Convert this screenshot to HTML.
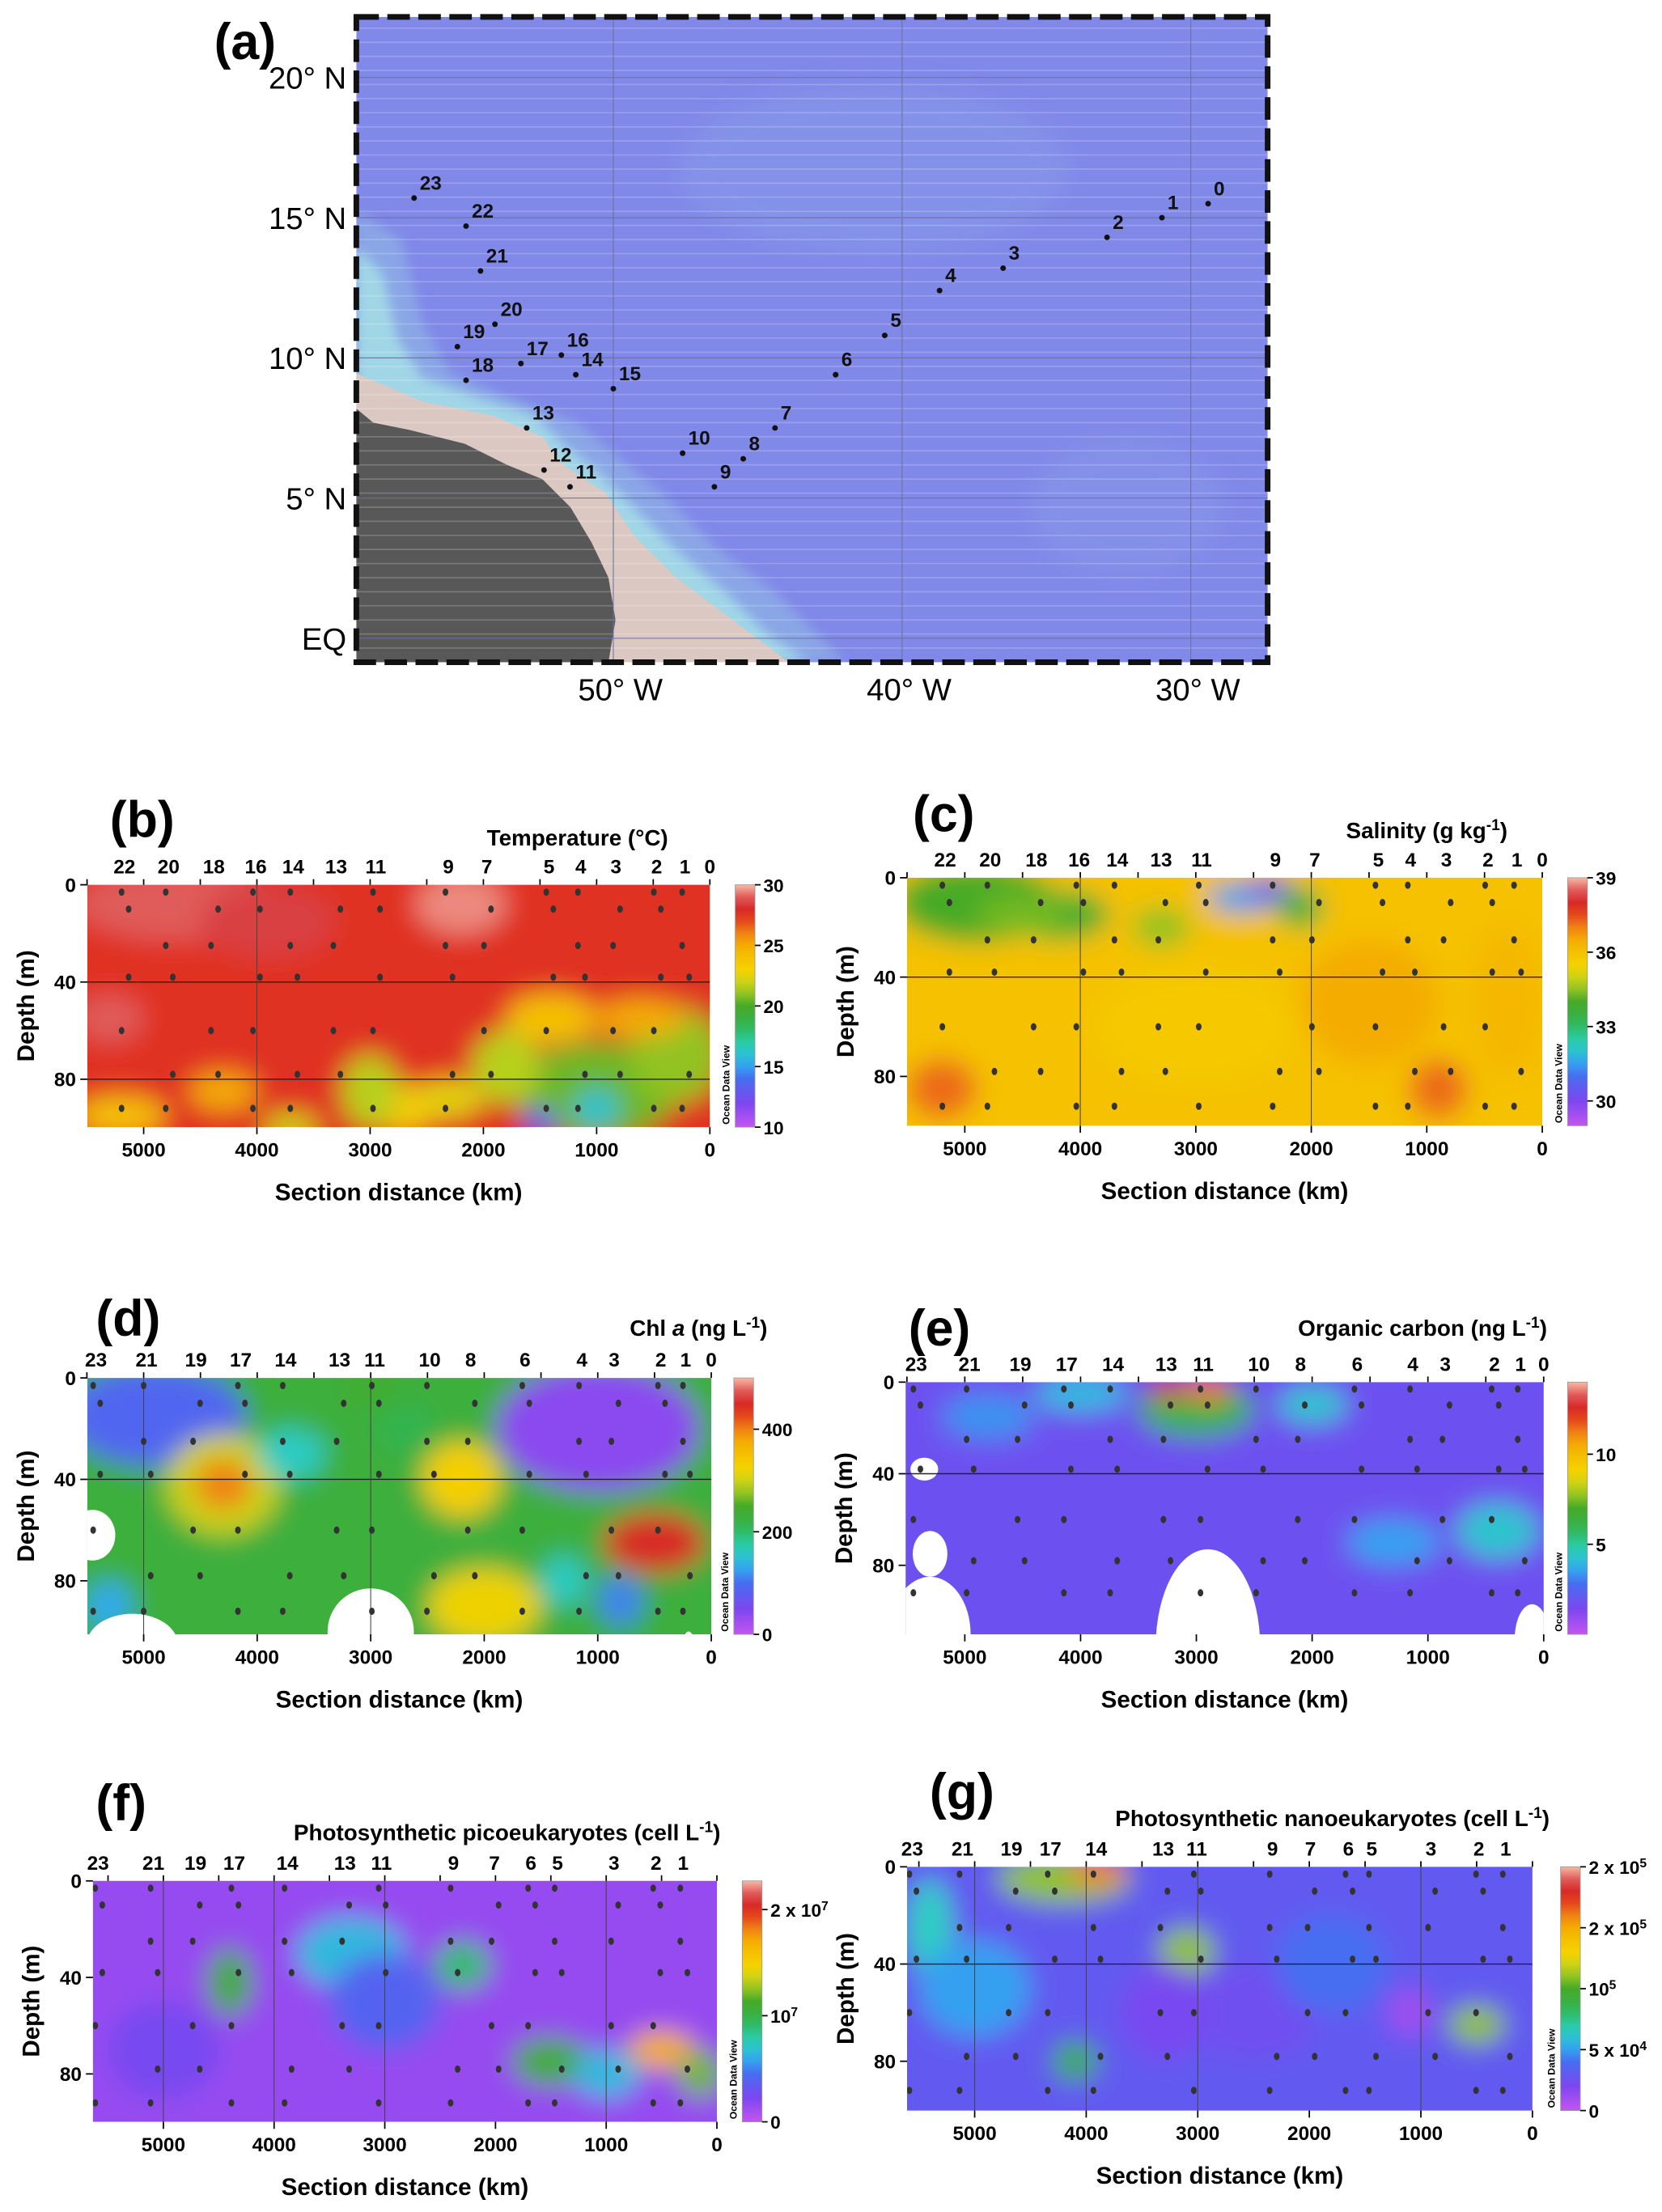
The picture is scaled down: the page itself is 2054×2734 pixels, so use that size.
<!DOCTYPE html>
<html><head><meta charset="utf-8"><title>Section plots</title>
<style>html,body{margin:0;padding:0;background:#fff}svg{display:block}text{font-family:"Liberation Sans",sans-serif}</style>
</head><body>
<svg id="fig" xmlns="http://www.w3.org/2000/svg" width="2054" height="2734" viewBox="0 0 1180 1570" preserveAspectRatio="none">
<defs>
<filter id="blur" x="-20%" y="-20%" width="140%" height="140%"><feGaussianBlur stdDeviation="9"/></filter>
<filter id="blurS" x="-20%" y="-20%" width="140%" height="140%"><feGaussianBlur stdDeviation="4"/></filter>
<clipPath id="mapclip"><rect x="253" y="12" width="647" height="458"/></clipPath>
</defs>
<g id="map"></g>
<g id="panels"></g>
</svg>
<script>
// ---------- Map data ----------
const mapStationIds=["0","1","2","3","4","5","6","7","8","9","10","11","12","13","14","15","16","17","18","19","20","21","22","23"];
const mapStationLon=[-29.4,-31.0,-32.9,-36.5,-38.7,-40.6,-42.3,-44.4,-45.5,-46.5,-47.6,-51.5,-52.4,-53.0,-51.3,-50.0,-51.8,-53.2,-55.1,-55.4,-54.1,-54.6,-55.1,-56.9];
const mapStationLat=[15.5,15.0,14.3,13.2,12.4,10.8,9.4,7.5,6.4,5.4,6.6,5.4,6.0,7.5,9.4,8.9,10.1,9.8,9.2,10.4,11.2,13.1,14.7,15.7];
const mapLonTicks=[-50,-40,-30];
const mapLatTicks=[20,15,10,5,0];

// ---------- Section data ----------
const bLabels=["22","20","18","16","14","13","11","9","7","5","4","3","2","1","0"];
const bLabelDist=[5170,4780,4380,4010,3680,3300,2950,2310,1970,1420,1140,830,470,220,0];
const bBlobDist=[4700,3900,2200,1000,300,1400,1800,2700,3000,5200,4300,1000,1500,600,3700,5300,2300];
const bBlobDepth=[8,15,8,85,70,55,75,92,85,95,85,92,98,55,100,55,88];
const bBlobRx=[900,600,400,700,400,400,300,300,250,400,300,200,150,400,250,300,300];
const bBlobRy=[15,15,12,20,20,10,15,10,15,8,8,8,6,8,6,10,8];
const bBlobVal=[29,28.7,29.5,20.5,21,24,21.5,23.5,21.5,24,25,16,13,25,22,29,22.5];
const bBase=27.5;
const cBlobDist=[4900,4200,2600,2350,2100,5200,900,3000,1500,4500,3300,300];
const cBlobDepth=[10,15,8,5,12,85,85,60,50,15,20,50];
const cBlobRx=[700,450,300,200,200,300,250,900,600,400,250,300];
const cBlobRy=[16,10,6,5,8,12,12,25,25,8,8,30];
const cBlobVal=[34,33.8,31.5,30.5,33.5,37.2,37.2,35.8,36.5,34.3,34.5,36.3];
const cBase=36;
const dBlobDist=[4900,4300,1000,4300,2200,500,2000,1300,800,3000,5300,3700,2700,3100];
const dBlobDepth=[15,42,20,42,40,65,90,80,88,5,90,30,20,70];
const dBlobRx=[800,500,900,250,350,450,500,200,200,300,200,300,250,300];
const dBlobRy=[20,20,25,10,15,12,15,10,10,8,10,10,10,20];
const dBlobVal=[90,300,40,400,330,450,320,160,110,240,130,160,210,230];
const dBase=230;
const dWhiteDist=[5450,5100,3000,200];
const dWhiteDepth=[62,105,100,105];
const dWhiteRx=[200,400,380,50];
const dWhiteRy=[10,12,17,5];
const eBlobDist=[3000,2900,3250,4000,400,1300,4800,2000];
const eBlobDepth=[12,3,3,5,65,70,15,10];
const eBlobRx=[500,200,150,400,350,400,400,300];
const eBlobRy=[12,6,5,8,12,10,10,8];
const eBlobVal=[6,11.5,12.5,4,4.3,3.5,3.3,4.3];
const eBase=1.8;
const eWhiteDist=[5350,5300,2900,5300,100];
const eWhiteDepth=[38,110,115,75,112];
const eWhiteRx=[120,350,450,150,150];
const eWhiteRy=[5,25,42,10,15];
const fBlobDist=[3300,4400,2300,1500,500,150,3000,5000,1000];
const fBlobDepth=[30,42,35,75,70,80,50,70,80];
const fBlobRx=[500,200,250,350,300,200,500,500,300];
const fBlobRy=[15,14,10,10,8,10,20,20,10];
const fBlobVal=[6.5,11,9,11,17,12,4,2.5,6.5];
const fBase=1.5;
const gBlobDist=[4200,3900,5400,3100,1100,500,4100,2500,3300,5000,1800];
const gBlobDepth=[5,2,25,35,60,65,80,60,60,50,40];
const gBlobRx=[600,250,200,250,200,250,200,600,400,500,500];
const gBlobRy=[10,6,20,10,10,8,8,20,20,20,20];
const gBlobVal=[11,16,6.5,11,1,11,9,2.5,2.2,5,4];
const gBase=3;
const dLabels=["23","21","19","17","14","13","11","10","8","6","4","3","2","1","0"];
const dLabelDist=[5420,4975,4540,4145,3750,3275,2965,2480,2120,1640,1140,855,445,225,0];
const eLabels=["23","21","19","17","14","13","11","10","8","6","4","3","2","1","0"];
const eLabelDist=[5420,4960,4520,4120,3720,3260,2940,2460,2100,1610,1130,850,425,200,0];
const fLabels=["23","21","19","17","14","13","11","9","7","6","5","3","2","1"];
const fLabelDist=[5590,5090,4710,4360,3880,3360,3030,2380,2010,1680,1440,930,550,305];
const gLabels=["23","21","19","17","14","13","11","9","7","6","5","3","2","1"];
const gLabelDist=[5560,5110,4670,4320,3910,3310,3010,2330,1990,1650,1440,910,480,240];
const sampleDepths=[3,10,25,38,60,78,92];

const NS="http://www.w3.org/2000/svg";
function mk(tag,attrs,parent){const e=document.createElementNS(NS,tag);for(const k in attrs)e.setAttribute(k,attrs[k]);if(parent)parent.appendChild(e);return e;}
const stops=[[0,[195,85,240]],[0.1,[125,70,240]],[0.2,[70,110,240]],[0.26,[50,170,240]],[0.33,[40,210,190]],[0.42,[50,180,80]],[0.5,[70,170,40]],[0.58,[190,210,30]],[0.65,[245,210,0]],[0.74,[245,180,0]],[0.8,[240,130,20]],[0.87,[225,50,30]],[0.92,[210,35,45]],[1,[248,185,165]]];
function cmap(t){t=Math.max(0,Math.min(1,t));for(let i=1;i<stops.length;i++){if(t<=stops[i][0]){const a=stops[i-1],b=stops[i];const f=(t-a[0])/(b[0]-a[0]);const c=a[1].map((v,j)=>Math.round(v+(b[1][j]-v)*f));return `rgb(${c[0]},${c[1]},${c[2]})`;}}return "rgb(248,185,165)";}

// ---------- Map ----------
const map=document.getElementById('map');
const mx=lon=>253+(lon+58.9)*20.5, my=lat=>453-lat*19.9;
const mg=mk('g',{'clip-path':'url(#mapclip)'},map);
let r=mk('rect',{x:253,y:12,width:647,height:458,fill:'#8088e8'},mg);
mk('ellipse',{cx:620,cy:120,rx:140,ry:60,fill:'#8ea4ea',opacity:0.35,filter:'url(#blur)'},mg);
mk('ellipse',{cx:800,cy:360,rx:70,ry:50,fill:'#8ea4ea',opacity:0.3,filter:'url(#blur)'},mg);
mk('path',{d:'M253 150 L285 170 L300 230 L320 265 L370 285 L410 300 L440 325 L470 350 L510 390 L550 420 L590 460 L600 470 L253 470 Z',fill:'#8aa6e6',filter:'url(#blurS)'},mg);
mk('path',{d:'M253 175 L272 195 L282 240 L300 268 L340 282 L380 295 L400 315 L425 335 L450 360 L480 390 L515 420 L545 450 L575 470 L253 470 Z',fill:'#a0d6e6',filter:'url(#blurS)'},mg);
let beige=mk('path',{d:'M253 265 L300 285 L350 295 L385 310 L400 330 L430 350 L450 380 L480 410 L520 440 L560 470 L253 470 Z',fill:'#dcc8c2'},mg);
let land=mk('path',{d:'M253 290 L265 300 L290 305 L330 315 L360 330 L385 340 L405 360 L420 385 L432 410 L437 440 L432 470 L253 470 Z',fill:'#585858'},mg);
for(let y=20;y<470;y+=10)mk('line',{x1:253,x2:900,y1:y,y2:y,stroke:'#fff','stroke-opacity':0.2,'stroke-width':1},mg);
mapLonTicks.forEach(l=>mk('line',{x1:mx(l),x2:mx(l),y1:12,y2:470,stroke:'#6a70a0','stroke-width':0.6},mg));
mapLatTicks.forEach(l=>mk('line',{x1:253,x2:900,y1:my(l),y2:my(l),stroke:'#6a70a0','stroke-width':0.6},mg));
let frame=mk('rect',{x:253,y:12,width:647,height:458,fill:'none',stroke:'#111','stroke-width':4,'stroke-dasharray':'16 6'},map);
mapLonTicks.forEach(l=>{const t=mk('text',{x:mx(l)+5,y:497,'font-size':22,'text-anchor':'middle'},map);t.textContent=`${-l}°  W`;});
mapLatTicks.forEach(l=>{const t=mk('text',{x:246,y:my(l)+8,'font-size':22,'text-anchor':'end'},map);t.textContent=l===0?'EQ':`${l}°  N`;});
mapStationIds.forEach((id,i)=>{const x=mx(mapStationLon[i]),y=my(mapStationLat[i]);
 const c=mk('circle',{cx:x,cy:y,r:2,fill:'#111'},map);
 const t=mk('text',{x:x+4,y:y-6,'font-size':14,'font-family':'Liberation Serif','font-weight':'bold',fill:'#111'},map);t.textContent=id;});
let la=mk('text',{x:152,y:42,'font-size':36,'font-weight':'bold'},map);la.textContent='(a)';

// ---------- Section panels ----------
const P=document.getElementById('panels');
function panel(o){
 const g=mk('g',{},P);
 const xs=d=>o.x0-d*o.kx, ys=z=>o.y0+z*o.ky, tn=v=>(v-o.vmin)/(o.vmax-o.vmin);
 const cid='clip'+o.id;const cp=mk('clipPath',{id:cid},g);mk('rect',{x:o.L,y:o.T,width:o.R-o.L,height:o.B-o.T},cp);
 const cg=mk('g',{'clip-path':`url(#${cid})`},g);
 const bg=mk('g',{filter:'url(#blur)'},cg);
 mk('rect',{x:o.L-40,y:o.T-40,width:o.R-o.L+80,height:o.B-o.T+80,fill:cmap(tn(o.base))},bg);
 o.bd.forEach((d,i)=>{const e=mk('ellipse',{cx:xs(d),cy:ys(o.bz[i]),rx:o.brx[i]*o.kx,ry:o.bry[i]*o.ky,fill:cmap(tn(o.bv[i]))},bg);});
 if(o.wd)o.wd.forEach((d,i)=>{const e=mk('ellipse',{cx:xs(d),cy:ys(o.wz[i]),rx:o.wrx[i]*o.kx,ry:o.wry[i]*o.ky,fill:'#fff'},cg);});
 o.hl.forEach(z=>mk('line',{x1:o.L,x2:o.R,y1:ys(z),y2:ys(z),stroke:'#222','stroke-width':0.8},cg));
 o.vl.forEach(d=>mk('line',{x1:xs(d),x2:xs(d),y1:o.T,y2:o.B,stroke:'#444','stroke-width':0.6},cg));
 o.ld.forEach((d,i)=>{if(d===0)return;sampleDepths.forEach((z,j)=>{if((i+j)%3===2)return;const c=mk('ellipse',{cx:xs(d)+((j%2)?3:-2),cy:ys(z),rx:2,ry:2.6,fill:'#333'},cg);});});
 o.xt.forEach(d=>{mk('line',{x1:xs(d),x2:xs(d),y1:o.B,y2:o.B+5,stroke:'#000'},g);const t=mk('text',{x:xs(d),y:o.B+21,'font-size':14,'font-weight':'bold','text-anchor':'middle'},g);t.textContent=d;});
 [0,40,80].forEach(z=>{mk('line',{x1:o.L-5,x2:o.L,y1:ys(z),y2:ys(z),stroke:'#000'},g);const t=mk('text',{x:o.L-8,y:ys(z)+5,'font-size':14,'font-weight':'bold','text-anchor':'end'},g);t.textContent=z;});
 for(let d=0;d<=5500;d+=500)mk('line',{x1:xs(d),x2:xs(d),y1:o.T,y2:o.T-4,stroke:'#000'},g);
 o.labels.forEach((s,i)=>{const t=mk('text',{x:xs(o.ld[i]),y:o.T-8,'font-size':14,'font-weight':'bold','text-anchor':'middle'},g);t.textContent=s;});
 const yt=mk('text',{x:0,y:0,'font-size':17,'font-weight':'bold','text-anchor':'middle',transform:`translate(${o.L-38},${(o.T+o.B)/2}) rotate(-90)`},g);yt.textContent='Depth (m)';
 const xt=mk('text',{x:(o.L+o.R)/2,y:o.B+52,'font-size':17,'font-weight':'bold','text-anchor':'middle'},g);xt.textContent='Section distance (km)';
 const tt=mk('text',{x:o.tx,y:o.ty,'font-size':16,'font-weight':'bold','text-anchor':'middle'},g);tt.innerHTML=o.title;
 const pl=mk('text',{x:o.px,y:o.py,'font-size':36,'font-weight':'bold'},g);pl.textContent=o.plabel;
 const gid='grad'+o.id;const lg=mk('linearGradient',{id:gid,x1:0,y1:1,x2:0,y2:0},g);
 for(let i=0;i<=20;i++)mk('stop',{offset:i/20,'stop-color':cmap(i/20)},lg);
 const cb=mk('rect',{x:o.cbx,y:o.T,width:14,height:o.B-o.T,fill:`url(#${gid})`,stroke:'#999','stroke-width':0.5},g);
 o.cbt.forEach((v,i)=>{const y=o.B-(v-o.vmin)/(o.vmax-o.vmin)*(o.B-o.T);mk('line',{x1:o.cbx+14,x2:o.cbx+18,y1:y,y2:y,stroke:'#000'},g);const t=mk('text',{x:o.cbx+20,y:y+5,'font-size':13,'font-weight':'bold'},g);t.innerHTML=o.cbl[i];});
 const odv=mk('text',{x:0,y:0,'font-size':7,'font-weight':'bold','text-anchor':'middle',transform:`translate(${o.cbx-4},${o.B-30}) rotate(-90)`},g);odv.textContent='Ocean Data View';
}
const xt5=[5000,4000,3000,2000,1000,0];
panel({id:'b',name:'temperature-section',L:62,R:504,T:628,B:800,x0:504,kx:0.0804,y0:628,ky:1.725,vmin:10,vmax:30,base:bBase,bd:bBlobDist,bz:bBlobDepth,brx:bBlobRx,bry:bBlobRy,bv:bBlobVal,hl:[40,80],vl:[4000],labels:bLabels,ld:bLabelDist,xt:xt5,title:'Temperature (°C)',tx:410,ty:600,plabel:'(b)',px:78,py:594,cbx:522,cbt:[10,15,20,25,30],cbl:['10','15','20','25','30']});
panel({id:'c',name:'salinity-section',L:644,R:1095,T:623,B:799,x0:1095,kx:0.082,y0:623,ky:1.7625,vmin:29,vmax:39,base:cBase,bd:cBlobDist,bz:cBlobDepth,brx:cBlobRx,bry:cBlobRy,bv:cBlobVal,hl:[40],vl:[4000,2000],labels:bLabels,ld:bLabelDist,xt:xt5,title:'Salinity (g kg<tspan baseline-shift="super" font-size="11">-1</tspan>)',tx:1013,ty:595,plabel:'(c)',px:648,py:590,cbx:1113,cbt:[30,33,36,39],cbl:['30','33','36','39']});
panel({id:'d',name:'chlorophyll-section',L:62,R:505,T:978,B:1160,x0:505,kx:0.0806,y0:978,ky:1.8,vmin:0,vmax:500,base:dBase,bd:dBlobDist,bz:dBlobDepth,brx:dBlobRx,bry:dBlobRy,bv:dBlobVal,wd:dWhiteDist,wz:dWhiteDepth,wrx:dWhiteRx,wry:dWhiteRy,hl:[40],vl:[5000,3000],labels:dLabels,ld:dLabelDist,xt:xt5,title:'Chl <tspan font-style="italic">a</tspan> (ng L<tspan baseline-shift="super" font-size="11">-1</tspan>)',tx:496,ty:948,plabel:'(d)',px:68,py:948,cbx:521,cbt:[0,200,400],cbl:['0','200','400']});
panel({id:'e',name:'organic-carbon-section',L:643,R:1096,T:981,B:1160,x0:1096,kx:0.0822,y0:981,ky:1.625,vmin:0,vmax:14,base:eBase,bd:eBlobDist,bz:eBlobDepth,brx:eBlobRx,bry:eBlobRy,bv:eBlobVal,wd:eWhiteDist,wz:eWhiteDepth,wrx:eWhiteRx,wry:eWhiteRy,hl:[40],vl:[],labels:eLabels,ld:eLabelDist,xt:xt5,title:'Organic carbon (ng L<tspan baseline-shift="super" font-size="11">-1</tspan>)',tx:1010,ty:948,plabel:'(e)',px:645,py:955,cbx:1113,cbt:[5,10],cbl:['5','10']});
panel({id:'f',name:'picoeukaryotes-section',L:66,R:509,T:1335,B:1506,x0:509,kx:0.0786,y0:1335,ky:1.7125,vmin:0,vmax:22.7,base:fBase,bd:fBlobDist,bz:fBlobDepth,brx:fBlobRx,bry:fBlobRy,bv:fBlobVal,hl:[],vl:[5000,4000,3000,1000],labels:fLabels,ld:fLabelDist,xt:xt5,title:'Photosynthetic picoeukaryotes (cell L<tspan baseline-shift="super" font-size="11">-1</tspan>)',tx:360,ty:1306,plabel:'(f)',px:68,py:1292,cbx:527,cbt:[0,10,20],cbl:['0','10<tspan baseline-shift="super" font-size="9">7</tspan>','2 x 10<tspan baseline-shift="super" font-size="9">7</tspan>']});
panel({id:'g',name:'nanoeukaryotes-section',L:644,R:1088,T:1325,B:1498,x0:1088,kx:0.0792,y0:1325,ky:1.725,vmin:0,vmax:20,base:gBase,bd:gBlobDist,bz:gBlobDepth,brx:gBlobRx,bry:gBlobRy,bv:gBlobVal,hl:[40],vl:[5000,4000,3000,1000],labels:gLabels,ld:gLabelDist,xt:xt5,title:'Photosynthetic nanoeukaryotes (cell L<tspan baseline-shift="super" font-size="11">-1</tspan>)',tx:946,ty:1296,plabel:'(g)',px:660,py:1284,cbx:1108,cbt:[0,5,10,15,20],cbl:['0','5 x 10<tspan baseline-shift="super" font-size="9">4</tspan>','10<tspan baseline-shift="super" font-size="9">5</tspan>','2 x 10<tspan baseline-shift="super" font-size="9">5</tspan>','2 x 10<tspan baseline-shift="super" font-size="9">5</tspan>']});
</script>
</body></html>
